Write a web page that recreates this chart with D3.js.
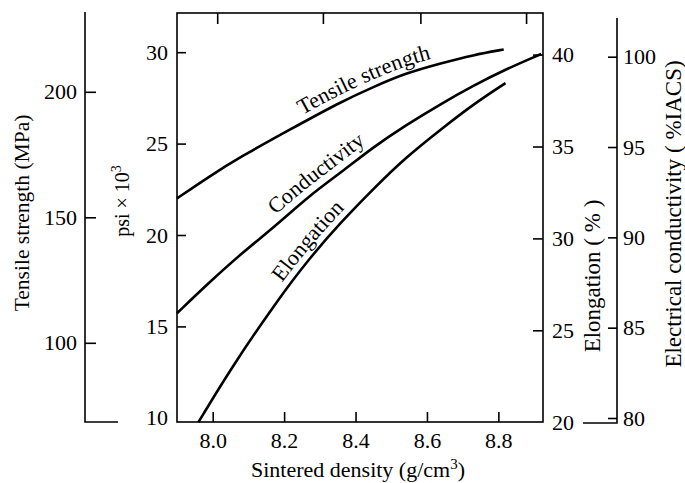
<!DOCTYPE html>
<html><head><meta charset="utf-8">
<script src="https://cdn.jsdelivr.net/npm/d3@7"></script>
<style>
body{margin:0;background:#fff}
svg{display:block}
svg text{font-family:'Liberation Serif','Tinos','Times New Roman','DejaVu Serif','Noto Serif',serif;fill:#000;font-size:22px}
</style>
</head><body>
<svg id="c" width="685" height="483" font-family="Liberation Serif, DejaVu Serif, serif"></svg>
<script>
// ---- data ----
const densityTicks = [8.0, 8.2, 8.4, 8.6, 8.8];
const topTickDensity = [8.014, 8.31, 8.583, 8.879];
const psiTicks = [10, 15, 20, 25, 30];
const mpaTicks = [100, 150, 200];
const elongTicks = [20, 25, 30, 35, 40];
const condTicks = [80, 85, 90, 95, 100];

const tensileDensity = [7.9, 7.99, 8.08, 8.21, 8.36, 8.45, 8.54, 8.64, 8.73, 8.815];
const tensilePsi     = [22.0, 23.2, 24.3, 25.7, 27.3, 28.1, 28.85, 29.4, 29.85, 30.15];

const condDensity = [7.9, 7.99, 8.08, 8.18, 8.27, 8.36, 8.45, 8.54, 8.64, 8.73, 8.82, 8.92];
const condIACS    = [85.8, 87.5, 89.1, 90.7, 92.3, 93.6, 95.0, 96.2, 97.4, 98.4, 99.3, 100.15];

const elongDensity = [7.96, 8.05, 8.18, 8.27, 8.36, 8.45, 8.54, 8.64, 8.73, 8.82];
const elongPct     = [20.0, 22.9, 26.6, 28.9, 30.9, 32.7, 34.4, 35.95, 37.3, 38.45];

const curveNames = ["Tensile strength", "Conductivity", "Elongation"];

// ---- layout ----
const svg = d3.select("#c");
const FONT = "'Liberation Serif','Tinos','Times New Roman','DejaVu Serif','Noto Serif',serif";
const F = {left: 177, right: 543, top: 13, bottom: 422};
const x = d3.scaleLinear().domain([7.9, 8.925]).range([F.left, F.right]);
const yPsi = d3.scaleLinear().domain([10, 30]).range([417.8, 52.2]);
const yElong = d3.scaleLinear().domain([20, 40]).range([422.2, 54.6]);
const yCond = d3.scaleLinear().domain([80, 100]).range([418, 56.7]);
const yMpa = d3.scaleLinear().domain([100, 200]).range([342.8, 91.8]);

const SW = 1.6;
function styleAxis(g) {
  g.select(".domain").remove();
  g.attr("font-size", 22).attr("font-family", FONT);
  g.selectAll("text").style("font-family", FONT).style("font-size", "22px");
  g.selectAll("line").attr("stroke-width", SW);
}

// frame
svg.append("rect").attr("x", F.left).attr("y", F.top)
  .attr("width", F.right - F.left).attr("height", F.bottom - F.top)
  .attr("fill", "none").attr("stroke", "#000").attr("stroke-width", SW);

// bottom axis
svg.append("g").attr("transform", `translate(0,${F.bottom})`)
  .call(d3.axisBottom(x).tickValues(densityTicks).tickFormat(d3.format(".1f"))
    .tickSizeInner(-10).tickSizeOuter(0).tickPadding(10))
  .call(styleAxis);

// top ticks
svg.append("g").selectAll("line").data(topTickDensity).join("line")
  .attr("x1", d => x(d)).attr("x2", d => x(d))
  .attr("y1", F.top).attr("y2", F.top + 11)
  .attr("stroke", "#000").attr("stroke-width", SW);

// psi axis (left frame)
svg.append("g").attr("transform", `translate(${F.left},0)`)
  .call(d3.axisLeft(yPsi).tickValues(psiTicks).tickSizeInner(-9).tickSizeOuter(0).tickPadding(9))
  .call(styleAxis)
  .call(g => g.selectAll(".tick").filter(d => d === 10).select("line").remove());

// elongation axis (right frame)
svg.append("g").attr("transform", `translate(${F.right},0)`)
  .call(d3.axisRight(yElong).tickValues(elongTicks).tickSizeInner(-10).tickSizeOuter(0).tickPadding(9))
  .call(styleAxis)
  .call(g => g.selectAll(".tick").filter(d => d === 20).select("line").remove());

// MPa axis
const mpaX = 85;
svg.append("g").attr("transform", `translate(${mpaX},0)`)
  .call(d3.axisLeft(yMpa).tickValues(mpaTicks).tickSizeInner(-11).tickSizeOuter(0).tickPadding(8))
  .call(styleAxis);
svg.append("path").attr("d", `M${mpaX},12V422H118`).attr("fill", "none")
  .attr("stroke", "#000").attr("stroke-width", SW);

// conductivity axis
const condX = 617;
svg.append("g").attr("transform", `translate(${condX},0)`)
  .call(d3.axisRight(yCond).tickValues(condTicks).tickSizeInner(-9).tickSizeOuter(0).tickPadding(6))
  .call(styleAxis);
svg.append("path").attr("d", `M${condX},18V423H583`).attr("fill", "none")
  .attr("stroke", "#000").attr("stroke-width", SW);

// curves
const series = [
  {id: "c0", xs: tensileDensity, ys: tensilePsi, y: yPsi},
  {id: "c1", xs: condDensity, ys: condIACS, y: yCond},
  {id: "c2", xs: elongDensity, ys: elongPct, y: yElong}
];
const labelStart = [8.26, 8.19, 8.21];
const labelDy = [-7, -8, -7];
series.forEach((s, i) => {
  const line = d3.line().x(d => x(d[0])).y(d => s.y(d[1])).curve(d3.curveBasis);
  const p = svg.append("path").attr("id", s.id)
    .attr("d", line(d3.zip(s.xs, s.ys)))
    .attr("fill", "none").attr("stroke", "#000").attr("stroke-width", 2.6)
    .attr("stroke-linecap", "butt");
  const node = p.node();
  const tx = x(labelStart[i]);
  let lo = 0, hi = node.getTotalLength();
  for (let k = 0; k < 40; k++) {
    const mid = (lo + hi) / 2;
    if (node.getPointAtLength(mid).x < tx) lo = mid; else hi = mid;
  }
  svg.append("text").attr("dy", labelDy[i]).style("font-family", FONT).style("font-size", "22px")
    .append("textPath").attr("href", "#" + s.id).attr("startOffset", lo)
    .text(curveNames[i]);
});

// axis titles
function vtitle(tx, ty, size, txt) {
  return svg.append("text").attr("transform", `translate(${tx},${ty}) rotate(-90)`)
    .attr("text-anchor", "middle").attr("dominant-baseline", "central")
    .style("font-family", FONT).style("font-size", size + "px").text(txt);
}
vtitle(22, 213, 21.5, "Tensile strength (MPa)");

const psiT = vtitle(122, 201, 20, null);
psiT.append("tspan").text("psi × 10");
psiT.append("tspan").attr("dy", "-0.45em").style("font-size", "14px").text("3");

const xt = svg.append("text").attr("x", 358).attr("y", 477).attr("text-anchor", "middle")
  .style("font-family", FONT).style("font-size", "22px");
xt.append("tspan").text("Sintered density (g/cm");
xt.append("tspan").attr("dy", -8).style("font-size", "15px").text("3");
xt.append("tspan").attr("dy", 8).text(")");

vtitle(592, 276, 23, "Elongation ( % )");
vtitle(673, 214, 23, "Electrical conductivity ( %IACS)");
</script>
</body></html>
